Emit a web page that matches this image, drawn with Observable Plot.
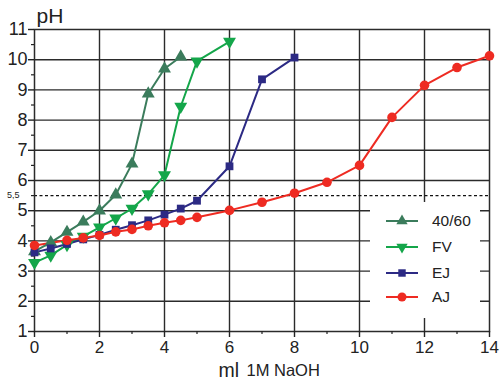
<!DOCTYPE html>
<html>
<head>
<meta charset="utf-8">
<script src="https://cdn.jsdelivr.net/npm/d3@7"></script>
<script src="https://cdn.jsdelivr.net/npm/@observablehq/plot@0.6"></script>
<style>
  body { margin: 0; background: #fff; }
  #wrap { position: relative; width: 500px; height: 379px; font-family: "Liberation Sans", Arial, sans-serif; }
  #legend { position: absolute; left: 370px; top: 202px; }
</style>
</head>
<body>
<div id="wrap"><div id="chart"></div><div id="legend"></div></div>
<script>
// Series: ml of 1M NaOH vs pH
const series = ["40/60", "FV", "EJ", "AJ"];
const colors = ["#3b7c5c", "#14a64a", "#2c2a84", "#ee2b22"];
const symbols = ["triangle", "triangle", "square", "circle"];
const rotations = [0, 180, 0, 0];

const ml_4060 = [0, 0.5, 1, 1.5, 2, 2.5, 3, 3.5, 4, 4.5];
const ph_4060 = [3.65, 3.95, 4.29, 4.63, 5.0, 5.53, 6.55, 8.87, 9.7, 10.1];

const ml_FV = [0, 0.5, 1, 1.5, 2, 2.5, 3, 3.5, 4, 4.5, 5, 6];
const ph_FV = [3.28, 3.52, 3.87, 4.15, 4.45, 4.75, 5.07, 5.55, 6.18, 8.45, 9.95, 10.6];

const ml_EJ = [0, 0.5, 1, 1.5, 2, 2.5, 3, 3.5, 4, 4.5, 5, 6, 7, 8];
const ph_EJ = [3.62, 3.75, 3.9, 4.05, 4.2, 4.37, 4.52, 4.68, 4.87, 5.07, 5.33, 6.47, 9.35, 10.07];

const ml_AJ = [0, 1, 1.5, 2, 2.5, 3, 3.5, 4, 4.5, 5, 6, 7, 8, 9, 10, 11, 12, 13, 14];
const ph_AJ = [3.85, 4.02, 4.1, 4.18, 4.3, 4.38, 4.5, 4.6, 4.68, 4.78, 5.01, 5.28, 5.58, 5.94, 6.5, 8.09, 9.15, 9.74, 10.13];

const xTicks = [0, 2, 4, 6, 8, 10, 12, 14];
const xMinor = [1, 3, 5, 7, 9, 11, 13];
const yTicks = [1, 2, 3, 4, 5, 6, 7, 8, 9, 10, 11];
const yMinor = [1.5, 2.5, 3.5, 4.5, 5.5, 6.5, 7.5, 8.5, 9.5, 10.5];
const xGrid = [2, 4, 6, 8, 10, 12];
const yGrid = [2, 3, 4, 5, 6, 7, 8, 9, 10];
const refPH = 5.5;
const refLabel = "5,5";
const yLabel = "pH";
const xLabelMain = "ml";
const xLabelSub = "1M NaOH";

const xs = [ml_4060, ml_FV, ml_EJ, ml_AJ];
const ys = [ph_4060, ph_FV, ph_EJ, ph_AJ];
const tables = series.map((s, i) => xs[i].map((x, j) => ({series: s, ml: x, ph: ys[i][j]})));

const gridColor = "#2b2b2b";
const seriesMarks = [];
tables.forEach((t, i) => {
  seriesMarks.push(Plot.line(t, {x: "ml", y: "ph", stroke: colors[i], strokeWidth: 2}));
});
tables.forEach((t, i) => {
  seriesMarks.push(Plot.dot(t, {x: "ml", y: "ph", fill: colors[i], stroke: "none",
    symbol: symbols[i], rotate: rotations[i], r: symbols[i] === "circle" ? 4.8 : (symbols[i] === "square" ? 4.4 : 4.8)}));
});

const chart = Plot.plot({
  width: 500, height: 379,
  marginLeft: 34, marginRight: 11, marginTop: 29, marginBottom: 48,
  x: {domain: [0, 14]},
  y: {domain: [1, 11]},
  style: {fontFamily: "'Liberation Sans', Arial, sans-serif", background: "white", color: "#222"},
  marks: [
    Plot.ruleX(xGrid, {stroke: gridColor, strokeWidth: 1.4}),
    Plot.ruleY(yGrid, {stroke: gridColor, strokeWidth: 1.4}),
    Plot.ruleY([refPH], {stroke: "#111", strokeWidth: 1.3, strokeDasharray: "3,2.5"}),
    Plot.frame({stroke: gridColor, strokeWidth: 1.5}),
    Plot.axisX(xTicks, {tickSize: 6, tickPadding: 3, fontSize: 17, label: null, strokeWidth: 1.4}),
    Plot.axisX(xMinor, {tickSize: 3, text: null, label: null, strokeWidth: 1.2}),
    Plot.axisY(yTicks, {tickSize: 6, tickPadding: 1, fontSize: 18, label: null, strokeWidth: 1.4}),
    Plot.axisY(yMinor, {tickSize: 3, text: null, label: null, strokeWidth: 1.2}),
    ...seriesMarks,
    Plot.text([refPH], {x: () => 0, y: d => d, text: () => refLabel, dx: -15, textAnchor: "end", fontSize: 9, fill: "#222"}),
    Plot.text([yLabel], {frameAnchor: "top-left", text: d => d, dx: 2, dy: -21, textAnchor: "start", fontSize: 21, fill: "#222"}),
    Plot.text([xLabelMain], {frameAnchor: "bottom-left", text: d => d, dx: 184, dy: 45, textAnchor: "start", fontSize: 19.5, fill: "#222"}),
    Plot.text([xLabelSub], {frameAnchor: "bottom-left", text: d => d, dx: 212, dy: 44, textAnchor: "start", fontSize: 16.5, fill: "#222"})
  ]
});
document.getElementById("chart").appendChild(chart);

// Legend (white box over the grid)
const lw = 110, lh = 116;
const leg = d3.select("#legend").append("svg").attr("width", lw).attr("height", lh);
leg.append("rect").attr("width", lw).attr("height", lh).attr("fill", "white");
const rowY = [19, 45, 71, 95];
series.forEach((s, i) => {
  const g = leg.append("g").attr("transform", `translate(0,${rowY[i]})`);
  g.append("line").attr("x1", 16).attr("x2", 48).attr("stroke", colors[i]).attr("stroke-width", 2);
  const symType = symbols[i] === "circle" ? d3.symbolCircle : symbols[i] === "square" ? d3.symbolSquare : d3.symbolTriangle;
  const size = symbols[i] === "circle" ? Math.PI * 4.5 * 4.5 : Math.PI * 4.2 * 4.2;
  g.append("path").attr("d", d3.symbol(symType, size)())
    .attr("transform", `translate(32,0) rotate(${rotations[i]})`).attr("fill", colors[i]);
  g.append("text").attr("x", 62).attr("dy", "0.35em").attr("font-size", 15.5).attr("fill", "#222")
    .attr("font-family", "'Liberation Sans', Arial, sans-serif").text(s);
});
</script>
</body>
</html>
